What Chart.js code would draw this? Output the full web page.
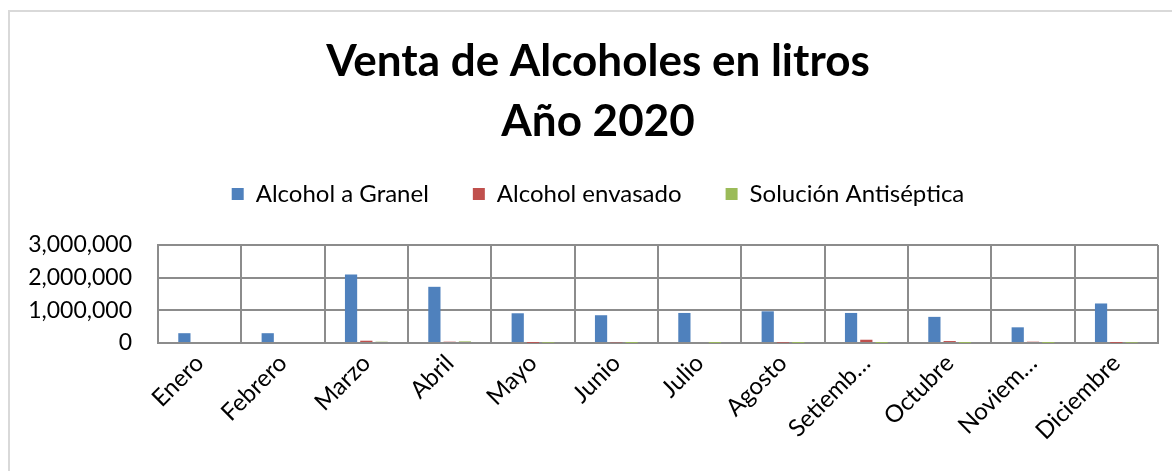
<!DOCTYPE html>
<html>
<head>
<meta charset="utf-8">
<script src="https://cdn.jsdelivr.net/npm/chart.js@4"></script>
<style>
    body { margin: 0; background: #fff; }
    #frame {
        position: absolute; left: 8px; top: 10px; width: 1300px; height: 600px;
        border-left: 2px solid #d9d9d9; border-top: 2px solid #d9d9d9;
    }
    #wrap { position: absolute; left: 0; top: 0; width: 1172px; height: 471px; }
</style>
</head>
<body>
<div id="frame"></div>
<div id="wrap"><canvas id="ventas"></canvas></div>
<script>
const meses = ['Enero', 'Febrero', 'Marzo', 'Abril', 'Mayo', 'Junio', 'Julio',
    'Agosto', 'Setiemb…', 'Octubre', 'Noviem…', 'Diciembre'];
const alcoholGranel = [300000, 300000, 2100000, 1720000, 910000, 850000, 920000,
    970000, 920000, 800000, 480000, 1210000];
const alcoholEnvasado = [0, 0, 70000, 40000, 5000, 20000, 30000,
    12000, 100000, 60000, 40000, 5000];
const solucionAntiseptica = [0, 0, 40000, 50000, 10000, 3000, 3000,
    3000, 3000, 3000, 3000, 10000];
const yTicks = [0, 1000000, 2000000, 3000000];

const gridColor = '#8c8c8c';
const font = 'Lato, "Open Sans", sans-serif';

// room between legend and plot, and title/legend centred a bit further right
const headerTweak = {
    id: 'headerTweak',
    beforeLayout(chart) {
        const lg = chart.legend;
        if (lg && !lg._gapPatched) {
            const fit = lg.fit.bind(lg);
            lg.fit = function () { fit(); this.height += 29; };
            lg._gapPatched = true;
        }
    },
    afterLayout(chart) {
        if (chart.titleBlock) chart.titleBlock.left = 38;
        if (chart.legend) chart.legend.left = 38;
    }
};

const ctx = document.getElementById('ventas').getContext('2d');
new Chart(ctx, {
    type: 'bar',
    data: {
        labels: meses,
        datasets: [
            {label: 'Alcohol a Granel', data: alcoholGranel, backgroundColor: '#4f81bd'},
            {label: 'Alcohol envasado', data: alcoholEnvasado, backgroundColor: '#c0504d'},
            {label: 'Solución Antiséptica', data: solucionAntiseptica, backgroundColor: '#9bbb59'}
        ]
    },
    plugins: [headerTweak],
    options: {
        responsive: true,
        maintainAspectRatio: false,
        animation: false,
        datasets: {bar: {categoryPercentage: 0.55, barPercentage: 0.8}},
        layout: {padding: {left: 10, right: 14, top: 32, bottom: 0}},
        plugins: {
            tooltip: {enabled: false},
            title: {
                display: true,
                text: ['Venta de Alcoholes en litros', 'Año 2020'],
                color: '#000',
                font: {family: font, size: 44, weight: 'bold', lineHeight: 60 / 44},
                padding: {top: 0, bottom: -14}
            },
            legend: {
                position: 'top',
                labels: {
                    color: '#000',
                    font: {family: font, size: 24},
                    boxWidth: 12,
                    boxHeight: 12,
                    padding: 44
                }
            }
        },
        scales: {
            x: {
                grid: {color: gridColor, lineWidth: 2, drawTicks: false, offset: true},
                border: {color: gridColor, width: 2},
                ticks: {
                    color: '#000',
                    font: {family: font, size: 24},
                    maxRotation: 45,
                    minRotation: 45,
                    autoSkip: false,
                    padding: 6
                },
                afterFit: (scale) => { scale.height = 128; }
            },
            y: {
                min: 0,
                max: 3000000,
                afterBuildTicks: (scale) => { scale.ticks = yTicks.map(v => ({value: v})); },
                grid: {color: gridColor, lineWidth: 2, drawTicks: false},
                border: {color: gridColor, width: 2},
                ticks: {
                    color: '#000',
                    font: {family: font, size: 23},
                    padding: 26,
                    callback: (v) => v.toLocaleString('en-US')
                },
                afterFit: (scale) => { scale.width = 148; }
            }
        }
    }
});
</script>
</body>
</html>
